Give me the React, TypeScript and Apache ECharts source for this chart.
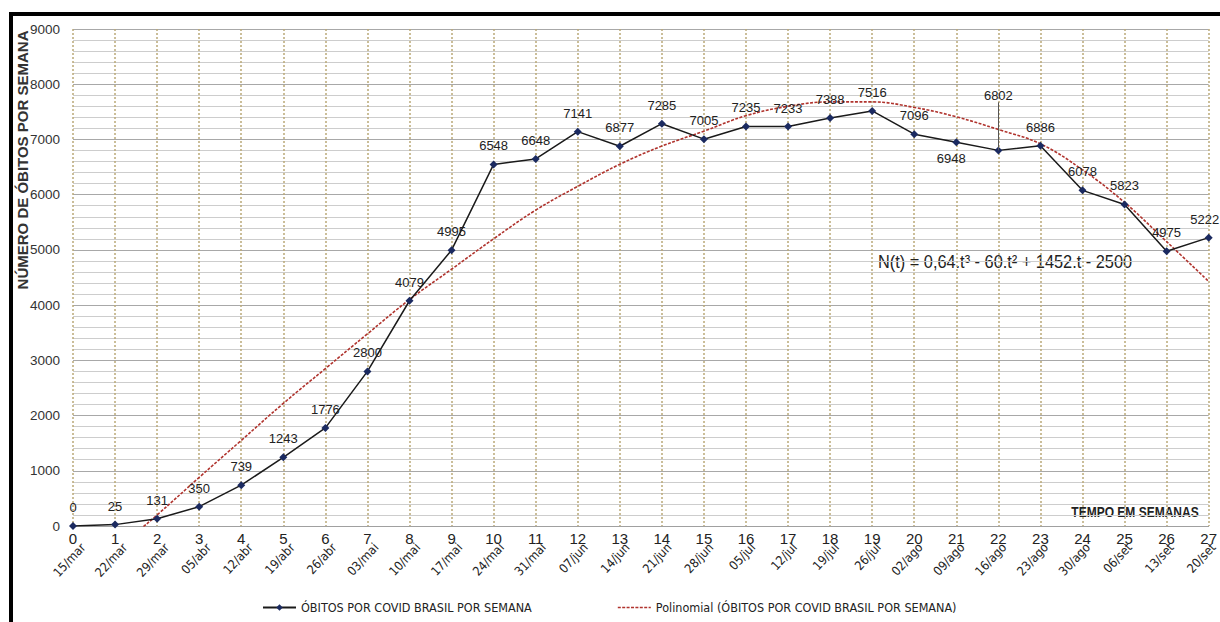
import React, { useEffect, useRef } from "react";
import * as echarts from "echarts";

// Semanas epidemiológicas (t) e as datas de início de cada semana
const semanas = [
  "0", "1", "2", "3", "4", "5", "6", "7", "8", "9", "10", "11", "12", "13",
  "14", "15", "16", "17", "18", "19", "20", "21", "22", "23", "24", "25", "26", "27",
];
const datas = [
  "15/mar", "22/mar", "29/mar", "05/abr", "12/abr", "19/abr", "26/abr",
  "03/mai", "10/mai", "17/mai", "24/mai", "31/mai", "07/jun", "14/jun",
  "21/jun", "28/jun", "05/jul", "12/jul", "19/jul", "26/jul", "02/ago",
  "09/ago", "16/ago", "23/ago", "30/ago", "06/set", "13/set", "20/set",
];

// Óbitos por COVID no Brasil, por semana
const obitos = [
  0, 25, 131, 350, 739, 1243, 1776, 2800, 4079, 4995, 6548, 6648, 7141, 6877,
  7285, 7005, 7235, 7233, 7388, 7516, 7096, 6948, 6802, 6886, 6078, 5823, 4975, 5222,
];

// Linha de tendência polinomial (grau 3), valor em cada semana
const tendencia = [
  -1150, -450, 200, 880, 1550, 2220, 2850, 3480, 4100, 4650, 5200, 5720, 6150, 6550,
  6880, 7150, 7430, 7600, 7680, 7680, 7580, 7410, 7180, 6920, 6450, 5860, 5150, 4430,
];

const eixoY = { min: 0, max: 9000, passo: 1000 };

const COND = "'DejaVu Sans Condensed', 'Liberation Sans Narrow', sans-serif";
const SANS = "'Liberation Sans', Arial, sans-serif";

const NOME_SERIE = "ÓBITOS POR COVID BRASIL POR SEMANA";
const NOME_TEND = "Polinomial (ÓBITOS POR COVID BRASIL POR SEMANA)";

// Ícone tracejado da legenda da tendência (caixa de 33 x 8)
function iconeTracejado(): string {
  let d = "path://M0,0 M33,8";
  for (let x = 0; x < 33; x += 4.4) {
    const w = Math.min(3, 33 - x);
    d += ` M${x},3.3h${w}v1.4h-${w}z`;
  }
  return d;
}

export default function App() {
  const ref = useRef<HTMLDivElement>(null);

  useEffect(() => {
    if (!ref.current) return;
    const chart = echarts.init(ref.current, undefined, { renderer: "svg" });

    const pontos = obitos.map((v, i) => {
      if (i === 21) return { value: v, label: { position: "bottom", distance: 6, offset: [-5, 0] } };
      if (i === 22) return { value: v, label: { distance: 44 } };
      if (i === 27) return { value: v, label: { offset: [-4, 0] } };
      return v;
    });

    chart.setOption({
      animation: false,
      grid: [
        { left: 73, right: 10, top: 29, bottom: 96 },
        { left: 83, right: 0, top: 29, bottom: 96 },
      ],
      legend: {
        left: 257,
        top: 596,
        itemWidth: 33,
        itemHeight: 8,
        itemGap: 86,
        textStyle: { fontFamily: COND, fontSize: 12.5, color: "#222" },
        data: [
          { name: NOME_SERIE },
          { name: NOME_TEND, icon: iconeTracejado() },
        ],
      },
      xAxis: [
        {
          type: "category",
          gridIndex: 0,
          data: semanas,
          boundaryGap: false,
          axisLine: { show: true, lineStyle: { color: "#a0a0a0", width: 1 } },
          axisTick: { show: false },
          axisLabel: {
            interval: 0,
            margin: 5,
            fontFamily: SANS,
            fontSize: 15,
            color: "#222",
          },
          splitLine: {
            show: true,
            interval: 0,
            lineStyle: { color: "#bba978", width: 1.5, type: [2, 2] },
          },
        },
        {
          type: "category",
          gridIndex: 1,
          data: datas,
          boundaryGap: false,
          axisLine: { show: false },
          axisTick: { show: false },
          splitLine: { show: false },
          axisLabel: {
            interval: 0,
            rotate: 47,
            margin: 19,
            fontFamily: COND,
            fontSize: 12.5,
            color: "#222",
          },
        },
      ],
      yAxis: [
        {
          type: "value",
          gridIndex: 0,
          min: eixoY.min,
          max: eixoY.max,
          interval: eixoY.passo,
          axisLine: { show: false },
          axisTick: { show: false },
          axisLabel: {
            margin: 13,
            fontFamily: SANS,
            fontSize: 13.5,
            color: "#333",
            formatter: (v: number) => String(v),
          },
          splitLine: { show: true, lineStyle: { color: "#a8a8a8", width: 1 } },
          minorTick: { show: false, splitNumber: 5 },
          minorSplitLine: { show: true, lineStyle: { color: "#cdcdcd", width: 1 } },
        },
        {
          type: "value",
          gridIndex: 1,
          min: eixoY.min,
          max: eixoY.max,
          show: false,
        },
      ],
      series: [
        {
          name: NOME_TEND,
          type: "line",
          xAxisIndex: 0,
          yAxisIndex: 0,
          data: tendencia,
          smooth: 0.4,
          symbol: "none",
          clip: true,
          silent: true,
          lineStyle: { color: "#b0332d", width: 1.6, type: [3, 1.5] },
          itemStyle: { color: "#b0332d" },
          z: 3,
        },
        {
          name: NOME_SERIE,
          type: "line",
          xAxisIndex: 0,
          yAxisIndex: 0,
          data: pontos,
          symbol: "diamond",
          symbolSize: 8,
          lineStyle: { color: "#1a1a1a", width: 1.5 },
          itemStyle: { color: "#1b2a60" },
          label: {
            show: true,
            position: "top",
            distance: 8,
            fontFamily: SANS,
            fontSize: 13,
            color: "#222",
          },
          markLine: {
            silent: true,
            symbol: ["none", "none"],
            label: { show: false },
            lineStyle: { color: "#555", width: 1, type: "solid" },
            data: [[{ coord: ["22", obitos[22]] }, { coord: ["22", obitos[22] + 870] }]],
          },
          z: 4,
        },
      ],
      graphic: [
        {
          type: "text",
          x: 22,
          y: 160,
          rotation: Math.PI / 2,
          style: {
            text: "NÚMERO DE ÓBITOS POR SEMANA",
            fontFamily: SANS,
            fontWeight: "bold",
            fontSize: 15,
            fill: "#333",
            textAlign: "center",
            textVerticalAlign: "middle",
          },
        },
        {
          type: "text",
          x: 1135,
          y: 512,
          scaleX: 0.8,
          style: {
            text: "TEMPO EM SEMANAS",
            fontFamily: SANS,
            fontWeight: "bold",
            fontSize: 15,
            fill: "#222",
            textAlign: "center",
            textVerticalAlign: "middle",
          },
        },
        {
          type: "text",
          x: 878,
          y: 262,
          scaleX: 0.86,
          style: {
            text: "N(t) = 0,64.t³ - 60.t² + 1452.t - 2500",
            fontFamily: SANS,
            fontSize: 19,
            fill: "#222",
            textAlign: "left",
            textVerticalAlign: "middle",
          },
        },
      ],
    });

    return () => chart.dispose();
  }, []);

  return (
    <div
      style={{
        position: "fixed",
        left: 0,
        top: 0,
        width: 1220,
        height: 622,
        overflow: "hidden",
        background: "#ffffff",
      }}
    >
      <div ref={ref} style={{ position: "absolute", left: 0, top: 0, width: 1220, height: 622 }} />
      <div
        style={{
          position: "absolute",
          left: 9,
          top: 12,
          width: 1300,
          height: 700,
          borderTop: "4px solid #000",
          borderLeft: "4px solid #000",
          pointerEvents: "none",
        }}
      />
    </div>
  );
}
